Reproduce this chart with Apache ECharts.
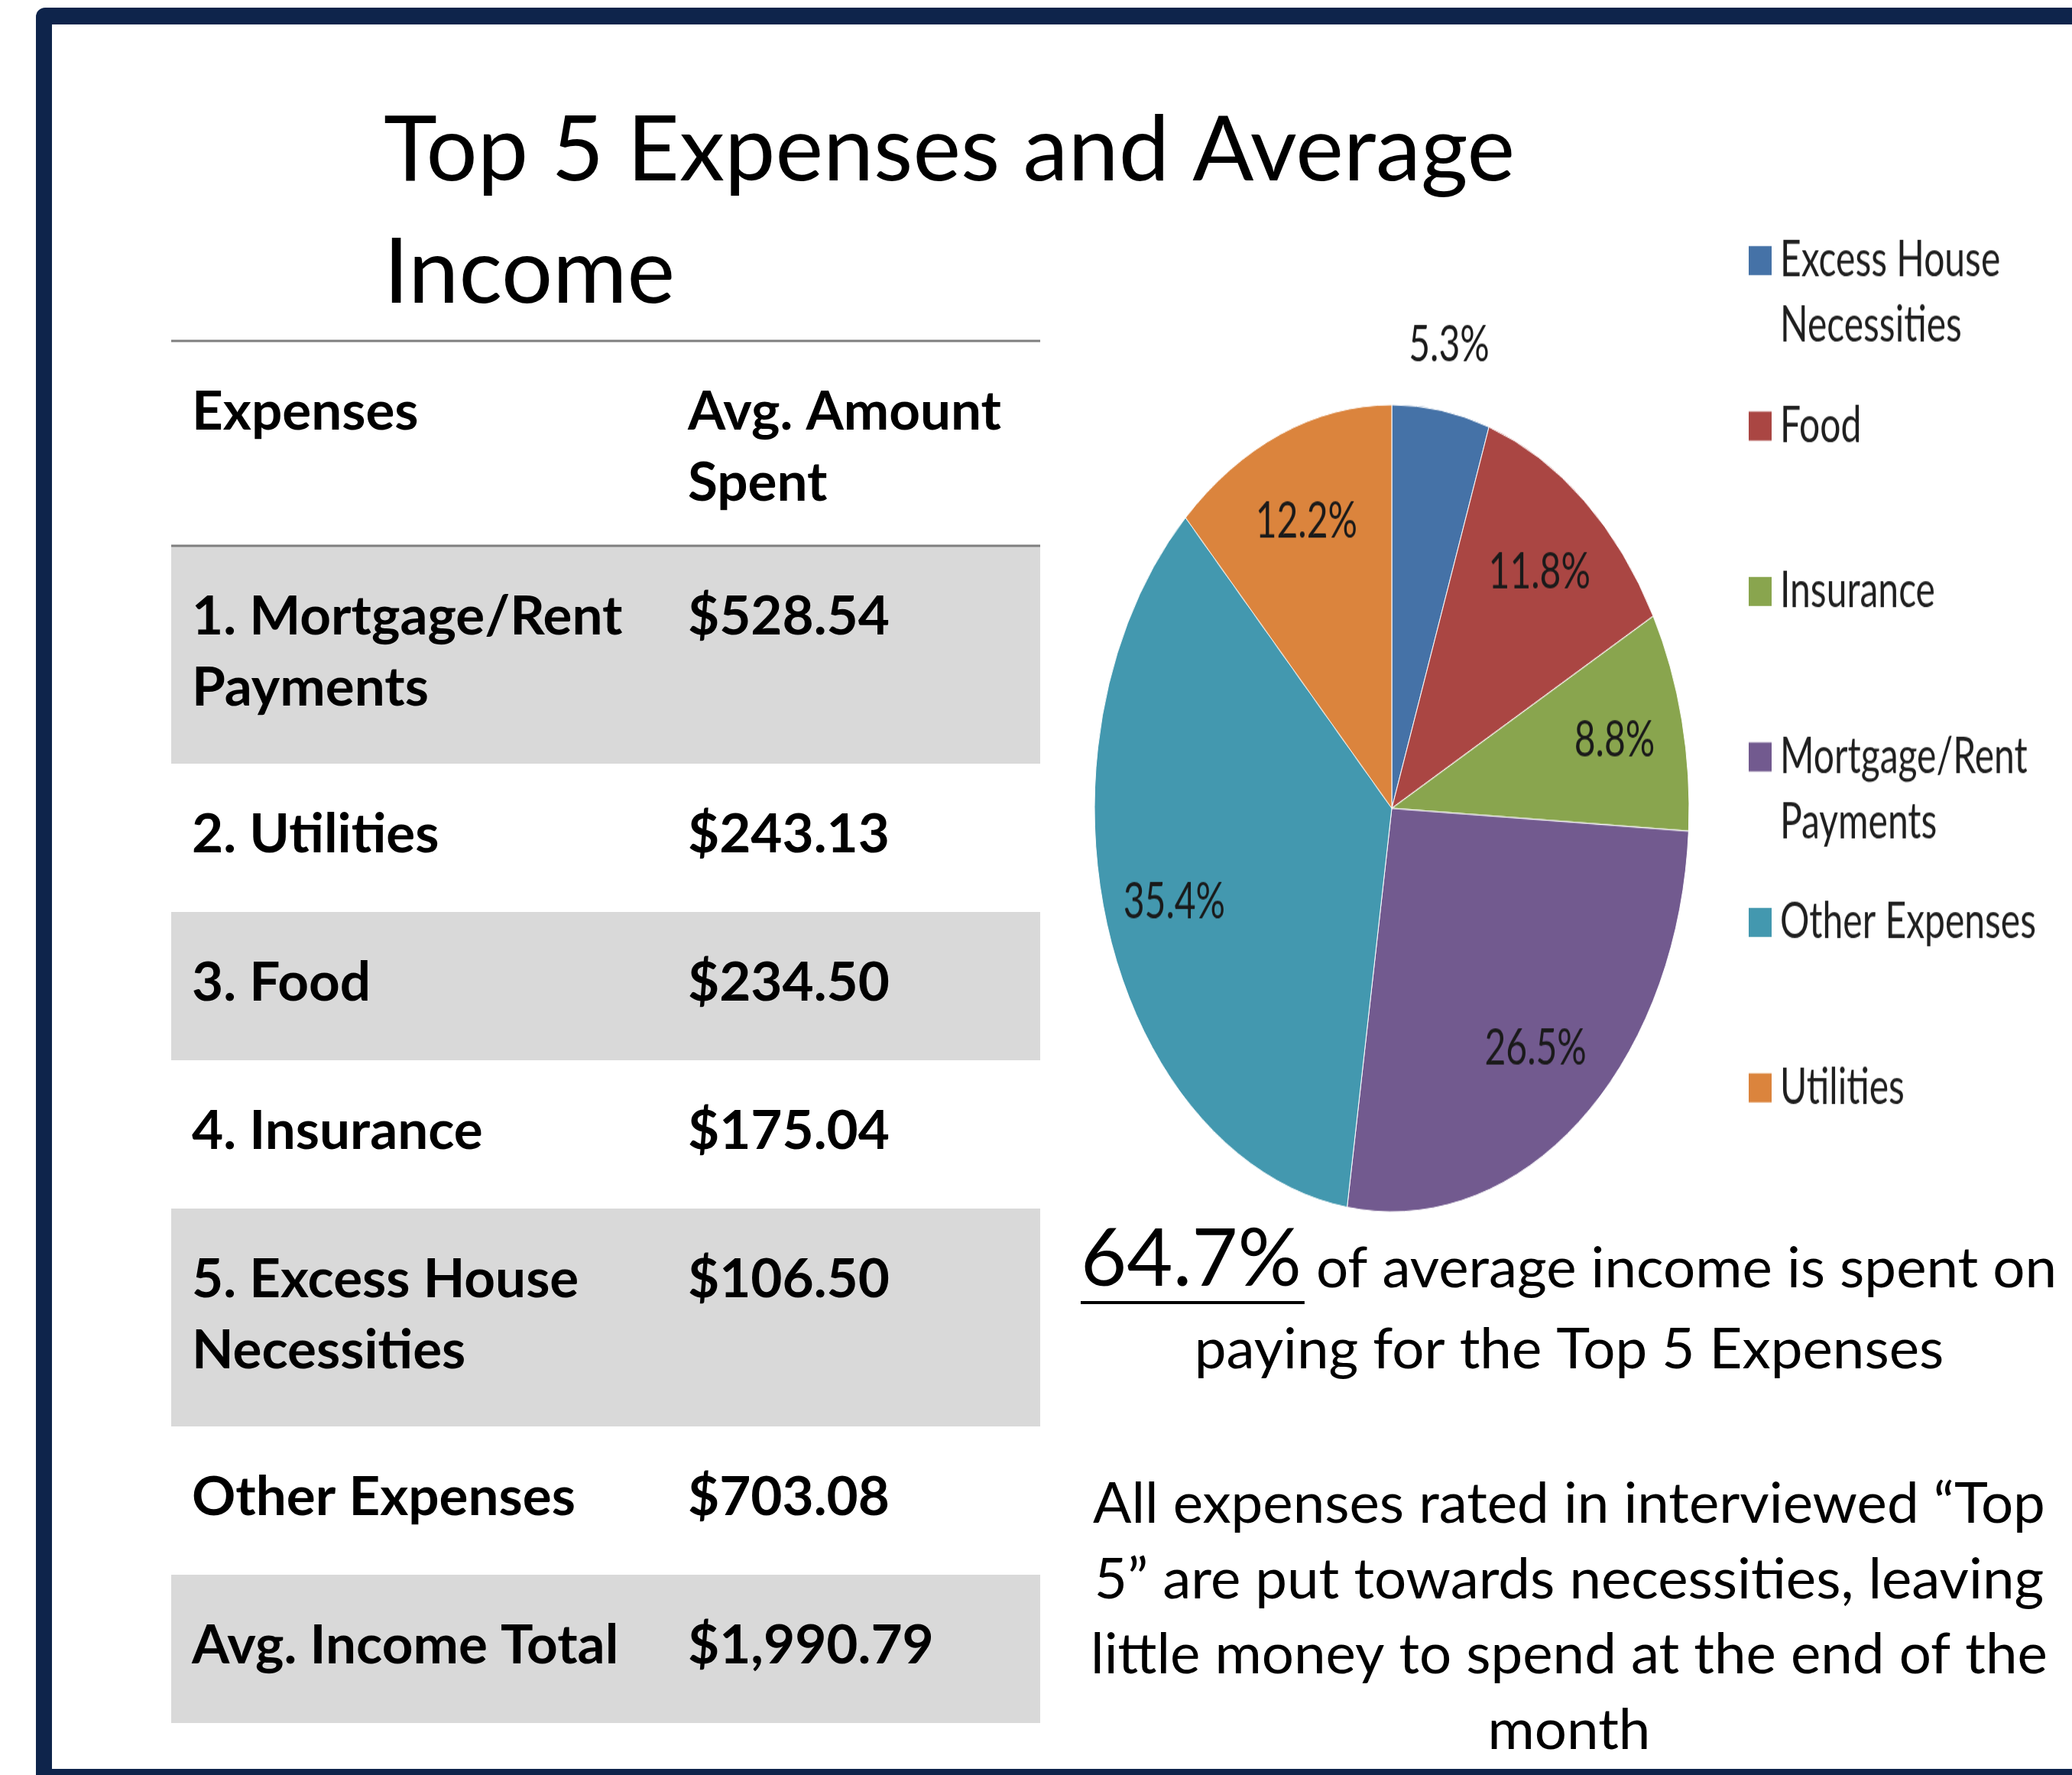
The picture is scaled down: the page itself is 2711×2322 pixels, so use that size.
<!DOCTYPE html>
<html>
<head>
<meta charset="utf-8">
<title>Top 5 Expenses and Average Income</title>
<script src="https://cdn.jsdelivr.net/npm/echarts@6/dist/echarts.min.js"></script>
<style>
  html, body { margin: 0; padding: 0; background: #fff; }
  #main { position: absolute; left: 0; top: 0; width: 2711px; height: 2322px; }
  /* the pie picture in the slide is stretched vertically, so the chart div is too */
  #pie { position: absolute; left: 1380px; top: 250px; width: 1331px; height: 1000px;
         transform: scaleY(1.357); transform-origin: 0 0; }
</style>
</head>
<body>
<div id="main"></div>
<div id="pie"></div>
<script>
// ---- data ----
var titleLines = ['Top 5 Expenses and Average', 'Income'];
var headerCells = ['Expenses', 'Avg. Amount\nSpent'];
var expenseLabels = ['1. Mortgage/Rent\nPayments', '2. Utilities', '3. Food', '4. Insurance',
                     '5. Excess House\nNecessities', 'Other Expenses', 'Avg. Income Total'];
var expenseAmounts = [528.54, 243.13, 234.50, 175.04, 106.50, 703.08, 1990.79];

var pieNames = ['Excess House Necessities', 'Food', 'Insurance', 'Mortgage/Rent Payments',
                'Other Expenses', 'Utilities'];
var pieShares = [5.3, 11.8, 8.8, 26.5, 35.4, 12.2];
var pieColors = ['#4572A7', '#AA4643', '#89A54E', '#725A8F', '#4398AF', '#DB843D'];
var legendLabels = ['Excess House\nNecessities', 'Food', 'Insurance', 'Mortgage/Rent\nPayments',
                    'Other Expenses', 'Utilities'];

var headlineValue = '64.7%';
var headlineRest = 'of average income is spent on';
var headlineLine2 = 'paying for the Top 5 Expenses';
var noteLines = ['All expenses rated in interviewed \u201cTop', '5\u201d are put towards necessities, leaving',
                 'little money to spend at the end of the', 'month'];

// ---- layout ----
var FONT = 'Lato';
var NAVY = '#0E244B';
var TABLE_X = 224, TABLE_W = 1137, TABLE_TOP = 446, HEADER_H = 268;
var ROW1_H = 194, ROW2_H = 285, CELL_LH = 93;
var COL1_X = 251, COL2_X = 900;
var TABLE_FS = 71;
var TEXT_CX = 2053, TEXT_FS = 74.5;

function money(v) {
  return '$' + v.toLocaleString('en-US', { minimumFractionDigits: 2, maximumFractionDigits: 2 });
}

// first text line sits CELL_LH below the row top
function cellText(str, x, rowTop) {
  return {
    type: 'text', z: 10,
    style: { text: str, x: x, y: rowTop + CELL_LH / 2, fontFamily: FONT, fontWeight: 'bold',
             fontSize: TABLE_FS, lineHeight: CELL_LH, fill: '#000', align: 'left', verticalAlign: 'top' }
  };
}

var g = [];
// slide frame
g.push({ type: 'rect', shape: { x: 47, y: 10, width: 2720, height: 2400, r: 12 }, style: { fill: NAVY } });
g.push({ type: 'rect', shape: { x: 68, y: 32, width: 2700, height: 2314 - 32 }, style: { fill: '#fff' } });

// title
titleLines.forEach(function (t, i) {
  g.push({ type: 'text', z: 10,
    style: { text: t, x: 502, y: 198 + i * 160, fontFamily: FONT, fontSize: 118.5, fill: '#000',
             align: 'left', verticalAlign: 'middle' } });
});

// table
g.push(cellText(headerCells[0], COL1_X, TABLE_TOP));
g.push(cellText(headerCells[1], COL2_X, TABLE_TOP));
var rowY = TABLE_TOP + HEADER_H;
expenseLabels.forEach(function (lbl, i) {
  var h = lbl.split('\n').length > 1 ? ROW2_H : ROW1_H;
  if (i % 2 === 0) {
    g.push({ type: 'rect', shape: { x: TABLE_X, y: rowY, width: TABLE_W, height: h }, style: { fill: '#D9D9D9' } });
  }
  g.push(cellText(lbl, COL1_X, rowY));
  g.push(cellText(money(expenseAmounts[i]), COL2_X, rowY));
  rowY += h;
});
[TABLE_TOP, TABLE_TOP + HEADER_H].forEach(function (y) {
  g.push({ type: 'line', z: 5, shape: { x1: TABLE_X, y1: y, x2: TABLE_X + TABLE_W, y2: y },
           style: { stroke: '#7F7F7F', lineWidth: 3 } });
});

// headline with underlined percentage
var ctx = document.createElement('canvas').getContext('2d');
ctx.font = '104px ' + FONT;
var wValue = ctx.measureText(headlineValue).width;
ctx.font = TEXT_FS + 'px ' + FONT;
var wSpace = ctx.measureText(' ').width;
var baseY = 1689;
g.push({ type: 'text', z: 10,
  style: { text: headlineValue, x: 1414, y: baseY - 0.387 * 104, fontFamily: FONT, fontSize: 104,
           fill: '#000', align: 'left', verticalAlign: 'middle' } });
g.push({ type: 'line', z: 10, shape: { x1: 1414, y1: 1704, x2: 1414 + wValue + 4, y2: 1704 },
         style: { stroke: '#000', lineWidth: 4 } });
g.push({ type: 'text', z: 10,
  style: { text: headlineRest, x: 1414 + wValue + wSpace, y: baseY - 0.387 * TEXT_FS, fontFamily: FONT,
           fontSize: TEXT_FS, fill: '#000', align: 'left', verticalAlign: 'middle' } });
g.push({ type: 'text', z: 10,
  style: { text: headlineLine2, x: TEXT_CX, y: 1795 - 0.387 * TEXT_FS, fontFamily: FONT,
           fontSize: TEXT_FS, fill: '#000', align: 'center', verticalAlign: 'middle' } });
g.push({ type: 'text', z: 10,
  style: { text: noteLines.join('\n'), x: TEXT_CX, y: 1968 - 49, fontFamily: FONT, fontSize: TEXT_FS,
           lineHeight: 98.5, fill: '#000', align: 'center', verticalAlign: 'top' } });

var mainChart = echarts.init(document.getElementById('main'), null, { renderer: 'canvas' });
mainChart.setOption({ animation: false, backgroundColor: '#fff', graphic: { elements: g } });

// ---- pie (drawn unstretched, div is scaled in CSS) ----
var PIE_CX = 441, PIE_CY = 595, PIE_R = 389;
var LEG_X = 908, LEG_TOP0 = 67, LEG_PITCH = 159.5, LEG_LH = 63, LEG_FS = 48, LEG_TEXT_PAD = 6;

function pieData(transparent) {
  return pieNames.map(function (n, i) {
    return { name: n, value: pieShares[i],
             itemStyle: { color: transparent ? 'rgba(0,0,0,0)' : pieColors[i] } };
  });
}

var labelStyle = { color: '#1a1a1a', fontFamily: FONT, fontSize: 48 };

var outerData = pieData(true);
outerData[0].label = { show: true };

// one legend per entry so the entries keep Excel's even spacing;
// wrapped names get their second line as plain text under the first
var legends = pieNames.map(function (n, i) {
  var first = legendLabels[i].split('\n')[0];
  return {
    data: [n], orient: 'vertical', left: LEG_X, top: LEG_TOP0 + i * LEG_PITCH - LEG_LH / 2,
    padding: 0, icon: 'rect', itemWidth: 30, itemHeight: 28,
    selectedMode: false, itemStyle: { borderWidth: 0 },
    formatter: function () { return first; },
    textStyle: { color: '#1f1f1f', fontFamily: FONT, fontSize: LEG_FS, lineHeight: LEG_LH,
                 padding: [0, 0, 0, LEG_TEXT_PAD] }
  };
});
var legendExtra = [];
legendLabels.forEach(function (lbl, i) {
  lbl.split('\n').slice(1).forEach(function (ln, k) {
    legendExtra.push({ type: 'text',
      style: { text: ln, x: LEG_X + 35 + LEG_TEXT_PAD, y: LEG_TOP0 + i * LEG_PITCH + (k + 1) * LEG_LH,
               fontFamily: FONT, fontSize: LEG_FS, fill: '#1f1f1f', align: 'left', verticalAlign: 'middle' } });
  });
});

var pieChart = echarts.init(document.getElementById('pie'), null, { renderer: 'canvas' });
pieChart.setOption({
  animation: false,
  legend: legends,
  graphic: { elements: legendExtra },
  series: [
    { type: 'pie', name: 'share', center: [PIE_CX, PIE_CY], radius: [0, PIE_R],
      startAngle: 90, clockwise: true, silent: true,
      itemStyle: { borderColor: '#ffffff', borderWidth: 1 },
      label: { show: false }, labelLine: { show: false }, emphasis: { disabled: true },
      data: pieData(false) },
    { type: 'pie', name: 'labels', center: [PIE_CX, PIE_CY], radius: [PIE_R * 0.52, PIE_R],
      startAngle: 90, clockwise: true, silent: true, itemStyle: { borderWidth: 0 },
      label: Object.assign({ show: true, position: 'inside', formatter: '{c}%' }, labelStyle),
      labelLine: { show: false }, emphasis: { disabled: true },
      data: pieData(true).map(function (d, i) { if (i === 0) d.label = { show: false }; return d; }) },
    { type: 'pie', name: 'outer labels', center: [PIE_CX, PIE_CY], radius: [PIE_R * 1.06, PIE_R * 1.25],
      startAngle: 90, clockwise: true, silent: true, itemStyle: { borderWidth: 0 },
      label: Object.assign({ show: false, position: 'inside', formatter: '{c}%' }, labelStyle),
      labelLine: { show: false }, emphasis: { disabled: true },
      data: outerData }
  ]
});
</script>
</body>
</html>
